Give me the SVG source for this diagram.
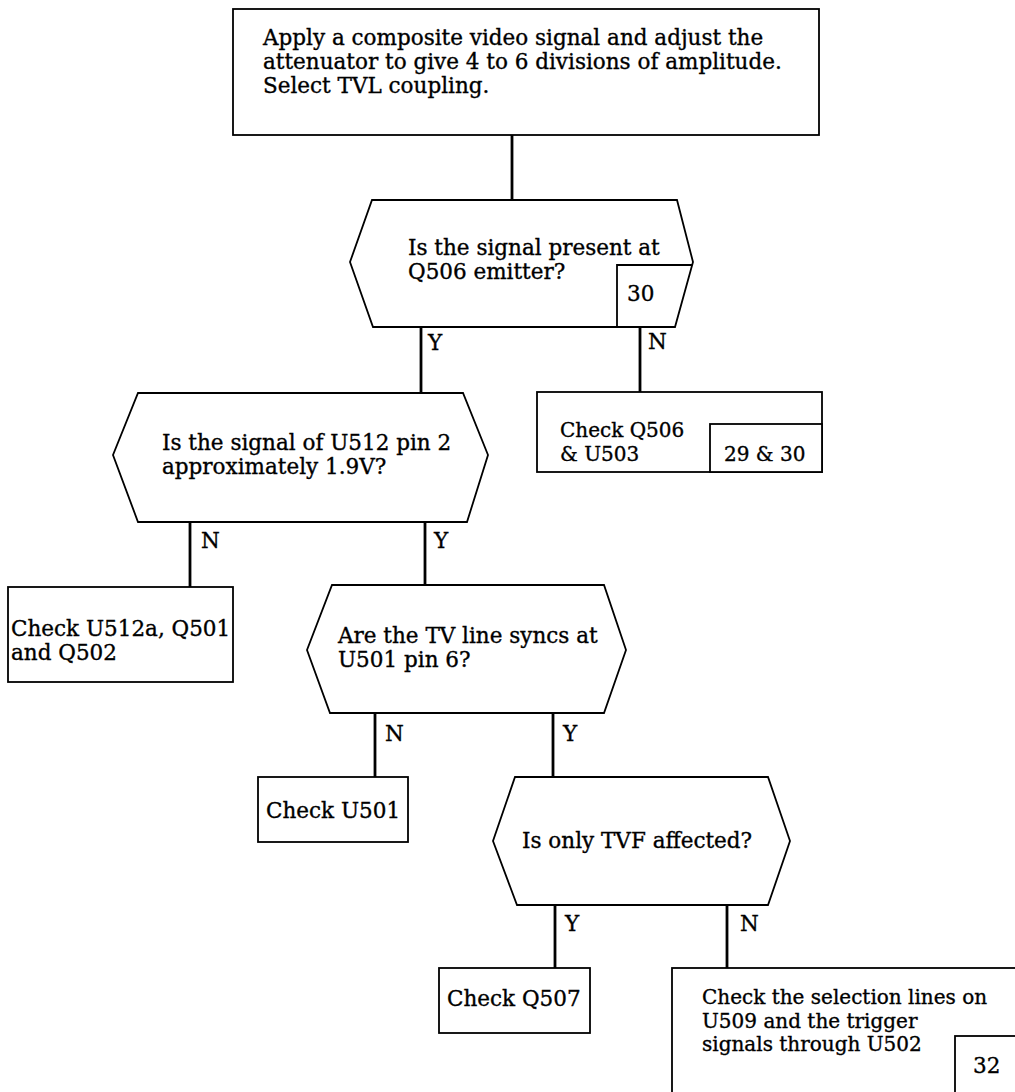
<svg xmlns="http://www.w3.org/2000/svg" width="1015" height="1092" viewBox="0 0 1015 1092">
<style>
.s{fill:#fff;stroke:#000;stroke-width:1.8}
.i{fill:none;stroke:#000;stroke-width:1.8}
.c{fill:none;stroke:#000;stroke-width:2.8}
text{font-family:"DejaVu Serif","Liberation Serif",serif;font-size:21.5px;fill:#000;stroke:#000;stroke-width:0.35}
.t{font-size:20px}
</style>
<rect width="1015" height="1092" fill="#fff"/>
<g id="connectors">
<line class="c" x1="512" y1="135" x2="512" y2="200"/>
<line class="c" x1="421" y1="327" x2="421" y2="393"/>
<line class="c" x1="640" y1="327" x2="640" y2="392"/>
<line class="c" x1="190" y1="522" x2="190" y2="587"/>
<line class="c" x1="425" y1="522" x2="425" y2="585"/>
<line class="c" x1="375" y1="713" x2="375" y2="777"/>
<line class="c" x1="553" y1="713" x2="553" y2="777"/>
<line class="c" x1="555" y1="905" x2="555" y2="968"/>
<line class="c" x1="727" y1="905" x2="727" y2="968"/>
<text x="428" y="350">Y</text>
<text x="648" y="349">N</text>
<text x="201" y="548">N</text>
<text x="434" y="548">Y</text>
<text x="385" y="741">N</text>
<text x="563" y="741">Y</text>
<text x="565" y="931">Y</text>
<text x="740" y="931">N</text>
</g>
<g id="start">
<rect class="s" x="233" y="9" width="586" height="126"/>
<text x="263" y="45">Apply a composite video signal and adjust the</text>
<text x="263" y="69">attenuator to give 4 to 6 divisions of amplitude.</text>
<text x="263" y="93">Select TVL coupling.</text>
</g>
<g id="q1">
<polygon class="s" points="372,200 677,200 693,262 675,327 373,327 350,262"/>
<polyline class="i" points="617,327 617,265 692,265"/>
<text x="408" y="255">Is the signal present at</text>
<text x="408" y="279">Q506 emitter?</text>
<text x="627" y="301">30</text>
</g>
<g id="r1">
<rect class="s" x="537" y="392" width="285" height="80"/>
<rect class="s" x="710" y="424" width="112" height="48"/>
<text class="t" x="560" y="437">Check Q506</text>
<text class="t" x="560" y="461">&amp; U503</text>
<text class="t" x="724" y="461">29 &amp; 30</text>
</g>
<g id="q2">
<polygon class="s" points="138,393 463,393 488,455 467,522 138,522 113,455"/>
<text x="162" y="450">Is the signal of U512 pin 2</text>
<text x="162" y="474">approximately 1.9V?</text>
</g>
<g id="r2">
<rect class="s" x="8" y="587" width="225" height="95"/>
<text x="11" y="636">Check U512a, Q501</text>
<text x="11" y="660">and Q502</text>
</g>
<g id="q3">
<polygon class="s" points="332,585 604,585 626,650 604,713 330,713 307,650"/>
<text x="338" y="643">Are the TV line syncs at</text>
<text x="338" y="667">U501 pin 6?</text>
</g>
<g id="r3">
<rect class="s" x="258" y="777" width="150" height="65"/>
<text x="266" y="818">Check U501</text>
</g>
<g id="q4">
<polygon class="s" points="515,777 768,777 790,841 768,905 517,905 493,841"/>
<text x="522" y="848">Is only TVF affected?</text>
</g>
<g id="r4">
<rect class="s" x="439" y="968" width="151" height="65"/>
<text x="447" y="1006">Check Q507</text>
</g>
<g id="r5">
<rect class="s" x="672" y="968" width="360" height="140"/>
<rect class="s" x="955" y="1036" width="70" height="70"/>
<text class="t" x="702" y="1004">Check the selection lines on</text>
<text class="t" x="702" y="1027.5">U509 and the trigger</text>
<text class="t" x="702" y="1051">signals through U502</text>
<text x="973" y="1073">32</text>
</g>
</svg>
